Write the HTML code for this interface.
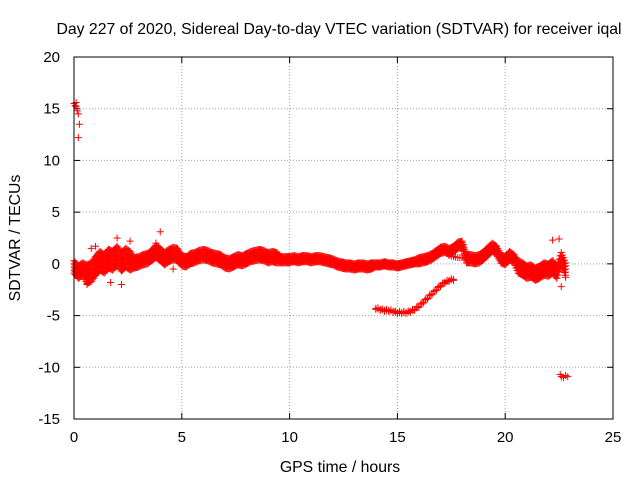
<!DOCTYPE html>
<html><head><meta charset="utf-8">
<style>
body{margin:0;background:#fff;}
svg{display:block;font-family:"Liberation Sans",sans-serif;}
</style></head>
<body>
<svg id="chart" width="640" height="480" viewBox="0 0 640 480">
<text x="339" y="34" font-size="15.8" text-anchor="middle" fill="#000">Day 227 of 2020, Sidereal Day-to-day VTEC variation (SDTVAR) for receiver iqal</text>
<text x="340" y="472" font-size="15.8" text-anchor="middle">GPS time / hours</text>
<text transform="translate(20,238) rotate(-90)" font-size="15.8" text-anchor="middle">SDTVAR / TECUs</text>
<g id="grid"></g>
<g id="ticks"></g>
<g id="marks"></g>
<rect x="74" y="57" width="539" height="362" fill="none" stroke="#000" stroke-width="1"/>
</svg>
<script>
const xTicks=[0,5,10,15,20,25];
const yTicks=[-15,-10,-5,0,5,10,15,20];
const bandTimes=[0,0.2,0.4,0.6,0.8,1,1.2,1.4,1.6,1.8,2,2.2,2.4,2.6,2.8,3,3.2,3.4,3.6,3.8,4,4.2,4.4,4.6,4.8,5,5.2,5.4,5.6,5.8,6,6.2,6.4,6.6,6.8,7,7.2,7.4,7.6,7.8,8,8.2,8.4,8.6,8.8,9,9.2,9.4,9.6,9.8,10,10.2,10.4,10.6,10.8,11,11.2,11.4,11.6,11.8,12,12.2,12.4,12.6,12.8,13,13.2,13.4,13.6,13.8,14,14.2,14.4,14.6,14.8,15,15.2,15.4,15.6,15.8,16,16.2,16.4,16.6,16.8,17,17.2,17.4,17.6,17.8,18,18.2,18.4,18.6,18.8,19,19.2,19.4,19.6,19.8,20,20.2,20.4,20.6,20.8,21,21.2,21.4,21.6,21.8,22,22.2,22.4,22.6,22.8];
const bandMid=[-0.3,-0.8,-0.5,-1.0,-0.8,-0.2,0.3,0.0,0.5,0.3,0.8,0.2,0.6,0.3,0.1,0.2,0.4,0.5,0.8,1.2,0.9,0.5,0.8,1.0,0.9,0.3,0.2,0.5,0.6,0.8,0.9,0.8,0.6,0.5,0.4,0.1,0.0,0.2,0.4,0.3,0.5,0.7,0.8,0.9,0.8,0.6,0.7,0.6,0.4,0.4,0.4,0.5,0.4,0.5,0.5,0.4,0.5,0.5,0.4,0.3,0.2,0.0,-0.1,-0.2,-0.2,-0.3,-0.2,-0.2,-0.3,-0.2,-0.1,-0.1,0.0,-0.1,-0.1,-0.2,-0.1,0.0,0.1,0.2,0.3,0.4,0.5,0.7,1.0,1.3,1.4,1.2,1.4,1.8,1.9,0.5,0.5,0.4,0.5,0.8,1.2,1.6,1.3,0.5,0.3,0.8,0.5,-0.3,-0.5,-0.8,-0.7,-1.0,-0.8,-0.5,-0.6,-0.3,-0.8,0.5,-0.5];
const bandSpread=[0.6,0.6,0.6,0.9,0.9,0.9,0.9,0.9,0.9,0.9,0.9,0.9,0.9,0.9,0.5,0.5,0.5,0.5,0.5,0.6,0.6,0.6,0.6,0.6,0.6,0.5,0.5,0.5,0.5,0.5,0.5,0.5,0.5,0.5,0.5,0.5,0.5,0.5,0.5,0.5,0.5,0.5,0.5,0.5,0.5,0.5,0.5,0.5,0.3,0.3,0.3,0.3,0.3,0.3,0.3,0.3,0.3,0.3,0.3,0.3,0.3,0.3,0.3,0.3,0.3,0.3,0.3,0.3,0.3,0.3,0.2,0.2,0.2,0.2,0.2,0.2,0.2,0.2,0.2,0.2,0.3,0.3,0.3,0.3,0.3,0.3,0.3,0.3,0.3,0.3,0.3,0.4,0.4,0.4,0.4,0.4,0.4,0.4,0.4,0.4,0.4,0.4,0.4,0.6,0.6,0.6,0.6,0.6,0.6,0.6,0.6,0.6,0.6,0.6,0.6];
const branchX=[17.4,17.6,17.8,18.0,18.2,18.4,18.6];
const branchY=[0.8,0.7,0.6,0.6,0.6,0.5,0.5];
const arcX=[14.0,14.2,14.4,14.6,14.8,15.0,15.2,15.4,15.6,15.8,16.0,16.2,16.4,16.6,16.8,17.0,17.2,17.4,17.6];
const arcY=[-4.3,-4.4,-4.5,-4.5,-4.6,-4.7,-4.7,-4.7,-4.6,-4.4,-4.1,-3.7,-3.3,-2.9,-2.5,-2.1,-1.8,-1.6,-1.5];
const topX=[0,0.05,0.1,0.15,0.2,0.25,0.2,0.1];
const topY=[15.5,15.3,15.2,14.8,14.5,13.5,12.2,15.6];
const lowX=[22.55,22.6,22.7,22.8,22.9];
const lowY=[-10.7,-10.9,-11.0,-10.8,-10.9];
const spikeX=[2.0,2.2,2.6,4.0,1.0,0.6,22.2,22.5,22.6,22.8,1.7,0.8,3.8,4.6];
const spikeY=[2.5,-2.0,2.2,3.1,1.7,-2.0,2.3,2.4,-2.2,-1.3,-1.8,1.5,2.0,-0.5];

const X0=74,X1=613,Y0=419,Y1=57;
function sx(v){return X0+(v-0)/(25-0)*(X1-X0);}
function sy(v){return Y0-(v+15)/(35)*(Y0-Y1);}
const NS="http://www.w3.org/2000/svg";
const grid=document.getElementById('grid'),ticks=document.getElementById('ticks'),marks=document.getElementById('marks');
function mk(tag,attrs,parent){const e=document.createElementNS(NS,tag);for(const k in attrs)e.setAttribute(k,attrs[k]);parent.appendChild(e);return e;}
xTicks.forEach(t=>{
  const x=sx(t);
  if(t>0&&t<25){const g=mk('line',{x1:x,x2:x,y1:Y1,y2:Y0,stroke:'#a0a0a0','stroke-dasharray':'1,2'},grid);
  
  }
  const a=mk('line',{x1:x,x2:x,y1:Y0,y2:Y0-6,stroke:'#000'},ticks);
  
  
  const b=mk('line',{x1:x,x2:x,y1:Y1,y2:Y1+6,stroke:'#000'},ticks);
  
  
  const l=mk('text',{x:x,y:Y0+23,'font-size':15,'text-anchor':'middle'},ticks);l.textContent=t;
  
  
});
yTicks.forEach(t=>{
  const y=sy(t);
  if(t>-15&&t<20){const g=mk('line',{x1:X0,x2:X1,y1:y,y2:y,stroke:'#a0a0a0','stroke-dasharray':'1,2'},grid);
  
  }
  const a=mk('line',{x1:X0,x2:X0+6,y1:y,y2:y,stroke:'#000'},ticks);
  
  
  const b=mk('line',{x1:X1,x2:X1-6,y1:y,y2:y,stroke:'#000'},ticks);
  
  
  const l=mk('text',{x:X0-14,y:y+5,'font-size':15,'text-anchor':'end'},ticks);l.textContent=t;
  
  
});
function plus(xv,yv){
  const x=sx(xv),y=sy(yv);
  const p=mk('path',{d:`M${x-3.5},${y}h7M${x},${y-3.5}v7`,stroke:'#ff0000','stroke-width':1,fill:'none'},marks);
  
  
}
const offs=[-1,-0.5,0,0.5,1];
bandTimes.forEach((t,i)=>{
  const n=i<bandTimes.length-1?4:1;
  for(let k=0;k<n;k++){
    const f=k/4,j=Math.min(i+1,bandTimes.length-1);
    const tt=t+(bandTimes[j]-t)*f,ym=bandMid[i]+(bandMid[j]-bandMid[i])*f,sp=bandSpread[i]+(bandSpread[j]-bandSpread[i])*f;
    offs.forEach(o=>plus(tt,ym+o*sp));
  }
});
branchX.forEach((x,i)=>{plus(x,branchY[i]);if(i<branchX.length-1)plus((x+branchX[i+1])/2,(branchY[i]+branchY[i+1])/2);});
arcX.forEach((x,i)=>{plus(x,arcY[i]);plus(x,arcY[i]-0.1);if(i<arcX.length-1){plus((x+arcX[i+1])/2,(arcY[i]+arcY[i+1])/2);plus((x+arcX[i+1])/2,(arcY[i]+arcY[i+1])/2+0.1);}});
topX.forEach((x,i)=>plus(x,topY[i]));
lowX.forEach((x,i)=>plus(x,lowY[i]));
spikeX.forEach((x,i)=>plus(x,spikeY[i]));
</script>
</body></html>
